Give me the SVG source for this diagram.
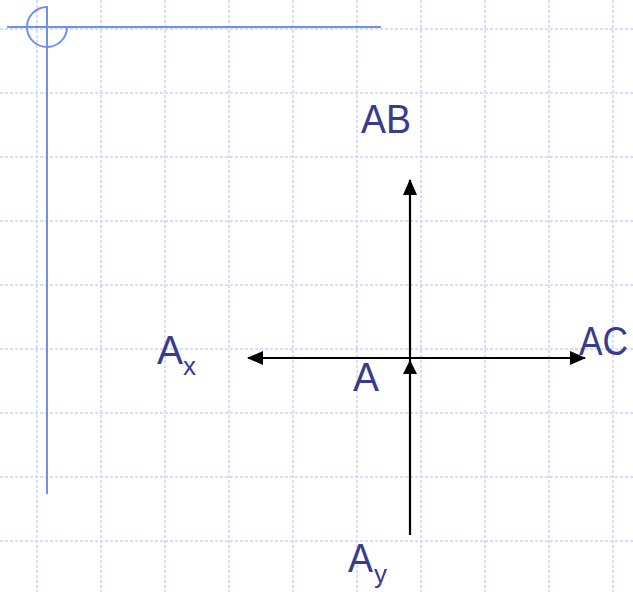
<svg xmlns="http://www.w3.org/2000/svg" width="633" height="592" viewBox="0 0 633 592">
<style>
.grid{stroke:#c6d3fa;stroke-width:1.5;stroke-dasharray:3 2;fill:none}
.blue{stroke:#6f8ff2;stroke-width:2;fill:none}
.arr{stroke:#000;stroke-width:2.2;fill:none}
.lbl{font-family:"Liberation Sans",Arial,sans-serif;font-size:41px;fill:#383b8e}
.sub{font-family:"Liberation Sans",Arial,sans-serif;font-size:26px;fill:#383b8e}
</style>
<defs>
<marker id="ah" markerWidth="16" markerHeight="14" refX="15" refY="7" orient="auto" markerUnits="userSpaceOnUse">
<path d="M0,0 L16,7 L0,14 Z" fill="#000"/>
</marker>
</defs>
<rect width="633" height="592" fill="#fff"/>
<g id="grid" class="grid">
<path d="M37,0V592M101,0V592M165,0V592M229,0V592M293,0V592M357,0V592M421,0V592M485,0V592M549,0V592M613,0V592"/>
<path d="M0,29H633M0,93H633M0,157H633M0,221H633M0,285H633M0,349H633M0,413H633M0,477H633M0,541H633"/>
</g>
<g id="frame" class="blue">
<line x1="7" y1="27" x2="381" y2="27"/>
<line x1="47" y1="6" x2="47" y2="494"/>
<path d="M47,7 A20,20 0 1 0 67,27"/>
</g>
<g id="connectors" class="arr">
<line x1="410" y1="358" x2="248" y2="358" marker-end="url(#ah)"/>
<line x1="410" y1="358" x2="585" y2="358" marker-end="url(#ah)"/>
<line x1="410" y1="535" x2="410" y2="180" marker-end="url(#ah)"/>
<path d="M410,360 L403,374 L417,374 Z" fill="#000" stroke="none"/>
</g>
<g id="node-AB"><text class="lbl" x="361" y="133" textLength="50" lengthAdjust="spacingAndGlyphs">AB</text></g>
<g id="node-AC"><text class="lbl" x="579" y="355" textLength="49" lengthAdjust="spacingAndGlyphs">AC</text></g>
<g id="node-A"><text class="lbl" x="353" y="391" textLength="26" lengthAdjust="spacingAndGlyphs">A</text></g>
<g id="node-Ax"><text class="lbl" x="157" y="364" textLength="26" lengthAdjust="spacingAndGlyphs">A</text><text class="sub" x="183" y="375">x</text></g>
<g id="node-Ay"><text class="lbl" x="348" y="572" textLength="25" lengthAdjust="spacingAndGlyphs">A</text><text class="sub" x="374" y="583">y</text></g>
</svg>
